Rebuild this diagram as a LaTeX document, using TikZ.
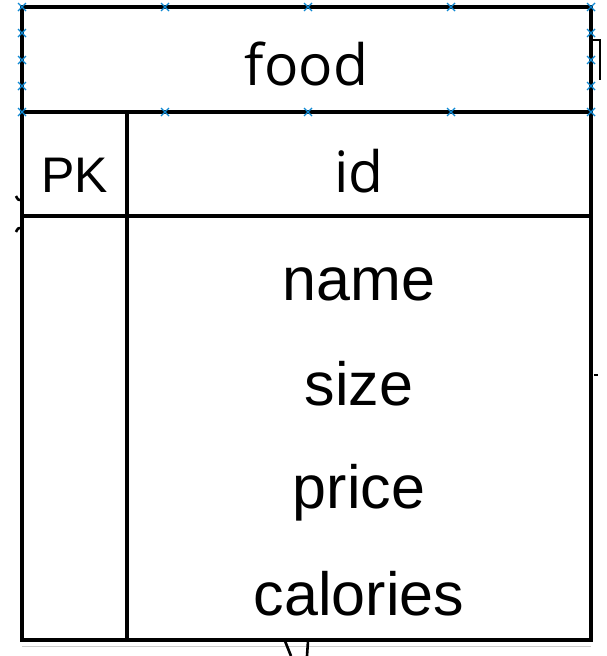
\documentclass[tikz,border=0pt]{standalone}
\usepackage{fontspec}
\setmainfont{Liberation Sans}
\newfontfamily\titlefont{Open Sans}
\begin{document}
\begin{tikzpicture}[x=1pt,y=-1pt,
  frame/.style={line width=3.8pt,draw=black},
  fieldtext/.style={anchor=base,inner sep=0pt,font=\fontsize{61}{70}\selectfont},
  pktext/.style={anchor=base,inner sep=0pt,font=\fontsize{50}{60}\selectfont},
  titletext/.style={anchor=base,inner sep=0pt,font=\titlefont\fontsize{57}{66}\selectfont},
  handle/.style={draw=cyan!70!blue,line width=1.4pt},
  frag/.style={line width=2.6pt,draw=black}]
\useasboundingbox (0,0) rectangle (607,656);
\fill[white] (0,0) rectangle (607,656);
% fragments of neighbouring elements
\draw[gray!40,line width=0.8pt] (22,646) -- (591,646);
\draw[frag] (16,196) .. controls (18,200) .. (22,200);
\draw[frag] (16,232) .. controls (18,228) .. (22,228);
\draw[frag] (285,641) -- (291,656);
\draw[frag] (308,641) -- (307,656);
\draw[frag,line width=2pt] (594,375) -- (598,375);
\draw[frag,line width=2pt] (592,40) -- (600,40) -- (600,80);
% table
\coordinate (tl) at (22,7);
\coordinate (br) at (591,640);
\draw[frame] (tl) rectangle (br);
\coordinate (t1) at (22,112);
\coordinate (t2) at (591,112);
\draw[frame] (t1) -- (t2);
\coordinate (r1) at (22,216);
\coordinate (r2) at (591,216);
\draw[frame] (r1) -- (r2);
\coordinate (d1) at (127,112);
\coordinate (d2) at (127,640);
\draw[frame] (d1) -- (d2);
% texts
\node[titletext] (food) at (306.5,85) {food};
\node[pktext] (pk) at (74.5,192) {PK};
\node[titletext] (id) at (359,192) {id};
\node[fieldtext] (name) at (359,300) {name};
\node[fieldtext] (size) at (359,405) {size};
\node[fieldtext] (price) at (359,508) {price};
\node[fieldtext] (cal) at (359,615) {calories};
% selection handles
\foreach \hx in {22,165,308,451,591}{
  \foreach \hy in {7,112}{
    \draw[handle] (\hx-4,\hy-4) -- (\hx+4,\hy+4) (\hx-4,\hy+4) -- (\hx+4,\hy-4);
  }
}
\foreach \hy in {33,60,86}{
  \foreach \hx in {22,591}{
    \draw[handle] (\hx-4,\hy-4) -- (\hx+4,\hy+4) (\hx-4,\hy+4) -- (\hx+4,\hy-4);
  }
}
\end{tikzpicture}
\end{document}
